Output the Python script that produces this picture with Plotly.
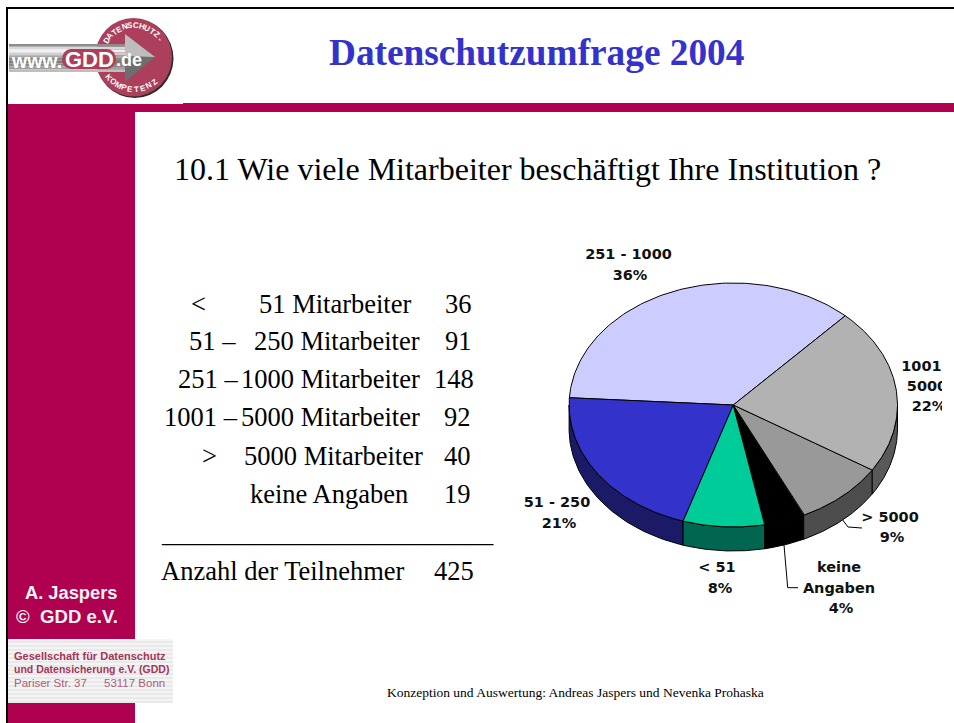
import numpy as np
import plotly.graph_objects as go

# ---- chart data ----
pie_labels = ["251 - 1000", "51 - 250", "< 51", "keine Angaben", "> 5000", "1001 - 5000"]
pie_percent = [36, 21, 8, 4, 9, 22]
top_colors = ["#CCCCFF", "#3333CC", "#00CC99", "#000000", "#999999", "#B2B2B2"]
side_colors = ["#666680", "#1A1A66", "#006650", "#000000", "#4D4D4D", "#595959"]

table_prefix = ["<", "51 –", "251 –", "1001 –", ">", ""]
table_suffix = ["51 Mitarbeiter", "250 Mitarbeiter", "1000 Mitarbeiter", "5000 Mitarbeiter", "5000 Mitarbeiter", "keine Angaben"]
table_counts = [36, 91, 148, 92, 40, 19]
total_label = "Anzahl der Teilnehmer"
total_count = 425

title = "Datenschutzumfrage 2004"
question = "10.1 Wie viele Mitarbeiter beschäftigt Ihre Institution ?"
footer = "Konzeption und Auswertung: Andreas Jaspers und Nevenka Prohaska"

CRIMSON = "#B00050"
LOGO = "#AB3F5C"
SERIF = "Liberation Serif"
SANS = "Liberation Sans"

# ---- pie geometry (pixel-space axes) ----
cx, cy, rx, ry, depth = 733.3, 405, 164.2, 122, 24
start = 47.0

def pt(t, drop=0.0):
    r = np.radians(t)
    return cx + rx * np.cos(r), cy - ry * np.sin(r) + drop

fig = go.Figure()
a = start
spans = []
for p in pie_percent:
    b = a + p * 3.6
    spans.append((a, b))
    a = b

# side walls
for (a, b), col in zip(spans, side_colors):
    for lo, hi in ((a, b), (a - 360, b - 360)):
        l, h = max(lo, 180), min(hi, 360)
        if h > l:
            t = np.linspace(l, h, 60)
            x1, y1 = pt(t)
            x2, y2 = pt(t[::-1], depth)
            fig.add_trace(go.Scatter(x=np.r_[x1, x2, x1[0]], y=np.r_[y1, y2, y1[0]], mode="lines",
                                     fill="toself", fillcolor=col, line=dict(color="#000", width=1),
                                     hoverinfo="skip", showlegend=False))
# top faces
for (a, b), col in zip(spans, top_colors):
    t = np.linspace(a, b, 120)
    x, y = pt(t)
    fig.add_trace(go.Scatter(x=np.r_[cx, x, cx], y=np.r_[cy, y, cy], mode="lines",
                             fill="toself", fillcolor=col, line=dict(color="#000", width=1),
                             hoverinfo="skip", showlegend=False))

# leader lines
fig.add_trace(go.Scatter(x=[842.7, 848, 862], y=[520, 527, 528], mode="lines",
                         line=dict(color="#000", width=1), hoverinfo="skip", showlegend=False))
fig.add_trace(go.Scatter(x=[784, 787.7, 798], y=[545, 587.7, 587.7], mode="lines",
                         line=dict(color="#000", width=1), hoverinfo="skip", showlegend=False))

# pie labels as real text, below the clipping shape
label_lines = [
    ["251 - 1000", "36%"], ["51 - 250", "21%"], ["< 51", "8%"],
    ["keine", "Angaben", "4%"], ["> 5000", "9%"], ["1001 -", "5000", "22%"],
]
label_xy = [
    [(628.5, 255), (630, 276)], [(557, 503), (559, 524)], [(717, 568), (720, 589)],
    [(839, 568), (839, 589), (841, 609)], [(890, 518), (892, 538)],
    [(927, 367), (927, 387), (929, 407)],
]
lx, ly, lt = [], [], []
for lines, xy in zip(label_lines, label_xy):
    for s, (x, y) in zip(lines, xy):
        lx.append(x); ly.append(y); lt.append(f"<b>{s}</b>")
fig.add_trace(go.Scatter(x=lx, y=ly, text=lt, mode="text", textposition="middle center",
                         textfont=dict(family="DejaVu Sans", size=14.5, color="#111111"),
                         hoverinfo="skip", showlegend=False))

shapes = []
def rect(x0, y0, x1, y1, color, layer="below"):
    shapes.append(dict(type="rect", xref="x", yref="y", x0=x0, y0=y0, x1=x1, y1=y1,
                       fillcolor=color, line=dict(width=0), layer=layer))

def circle(x0, y0, x1, y1, color, layer="above"):
    shapes.append(dict(type="circle", xref="x", yref="y", x0=x0, y0=y0, x1=x1, y1=y1,
                       fillcolor=color, line=dict(width=0), layer=layer))

# slide frame and crimson bars
rect(6, 7, 954, 9, "#000000")
rect(6, 7, 8, 723, "#000000")
rect(8, 104, 135, 723, CRIMSON)
rect(183, 103, 954, 112, CRIMSON)
rect(8, 104, 183, 112, CRIMSON)
# address band with faint stripes
rect(8, 639, 173, 703, "#F4F4F4")
for yy in range(641, 703, 4):
    rect(8, yy, 173, yy + 2, "#E9E9E9")
# clip of the chart on the right
rect(942, 355, 954, 420, "#FFFFFF", layer="above")

# logo: disc, arrow and lettering
circle(96, 19, 173.5, 98, "#2A2A2A")
circle(95, 18, 172, 96.5, LOGO)
grey_rows = ["#8C8C8C", "#D8D8D8", "#F0F0F0", "#D0D0D0", "#A8A8A8", "#8A8A8A", "#7E7E7E", "#8A8A8A", "#A0A0A0", "#BEBEBE"]
for i, c in enumerate(grey_rows):
    y0 = 44 + i * 2.8
    rect(9, y0, 126, y0 + 2.8, c, layer="above")
shapes.append(dict(type="path", xref="x", yref="y", path="M125,34 L155,57 L125,58 Z",
                   fillcolor="#BDBDBD", line=dict(width=0), layer="above"))
shapes.append(dict(type="path", xref="x", yref="y", path="M125,82 L155,57 L125,56 Z",
                   fillcolor="#6E6E6E", line=dict(width=0), layer="above"))
rect(70, 49, 108, 69, LOGO, layer="above")
circle(62, 49, 80, 69, LOGO)
circle(98, 49, 116, 69, LOGO)

ann = []
def text(x, y, s, size, color="#000000", family=SERIF, anchor="left", angle=0, bold=False):
    shift = {"left": -2.5, "right": 2.5, "center": 0}[anchor]
    ann.append(dict(x=x, y=y, xref="x", yref="y", text=f"<b>{s}</b>" if bold else s, showarrow=False,
                    xanchor=anchor, yanchor="middle", textangle=angle, align="center", xshift=shift,
                    font=dict(family=family, size=size, color=color)))

text(536, 52, title, 37.3, "#3333CC", anchor="center", bold=True)
text(174, 169, question, 32)

rows_y = [304, 341, 379, 417, 456, 494]
prefix_right = [205, 235, 237, 237, 216, None]
suffix_right = [410, 419, 419, 419, 422, 407]
count_right = [471, 471, 473, 470, 470, 470]
TS = 26.5
for i in range(6):
    if table_prefix[i]:
        text(prefix_right[i], rows_y[i], table_prefix[i], TS, anchor="right")
    text(suffix_right[i], rows_y[i], table_suffix[i], TS, anchor="right")
    text(count_right[i], rows_y[i], str(table_counts[i]), TS, anchor="right")
text(161, 533, "_" * 25, TS)
text(161, 571, total_label, TS)
text(473, 571, str(total_count), TS, anchor="right")

text(70.5, 592, "A. Jaspers", 18.3, "#F4F4F4", SANS, "center", bold=True)
text(67, 616, "©  GDD e.V.", 18.6, "#F4F4F4", SANS, "center", bold=True)
text(14, 656, "Gesellschaft für Datenschutz", 11, "#A6355A", SANS, bold=True)
text(14, 669, "und Datensicherung e.V. (GDD)", 10.5, "#A6355A", SANS, bold=True)
text(14, 683, "Pariser Str. 37", 11.5, "#B0607A", SANS)
text(164, 683, "53117 Bonn", 11.5, "#B0607A", SANS, anchor="right")
text(575, 692, footer, 13.5, anchor="center")

# logo lettering
text(11, 61, "www.", 19.5, "#FFFFFF", SANS, bold=True)
text(89, 59, "GDD", 22, "#FFFFFF", SANS, "center", bold=True)
text(116, 60, ".de", 18, "#FFFFFF", SANS, bold=True)
for i, ch in enumerate("DATENSCHUTZ-"):
    t = 148 - i * 10.3
    r = np.radians(t)
    text(134 + 32 * np.cos(r), 57.5 - 32 * np.sin(r), ch, 8, "#FFFFFF", SANS, "center", angle=90 - t, bold=True)
for i, ch in enumerate("KOMPETENZ"):
    t = 218 + i * 11.4
    r = np.radians(t)
    text(134 + 32 * np.cos(r), 57.5 - 32 * np.sin(r), ch, 8, "#FFFFFF", SANS, "center", angle=270 - t, bold=True)

fig.update_layout(
    width=954, height=723, margin=dict(l=0, r=0, t=0, b=0),
    paper_bgcolor="#FFFFFF", plot_bgcolor="#FFFFFF", showlegend=False,
    xaxis=dict(range=[0, 954], visible=False, fixedrange=True),
    yaxis=dict(range=[723, 0], visible=False, fixedrange=True),
    shapes=shapes, annotations=ann,
)
fig.write_html("out.html", config={"displayModeBar": False},
               post_script="document.body.style.margin='0';document.documentElement.style.overflow='hidden';")
